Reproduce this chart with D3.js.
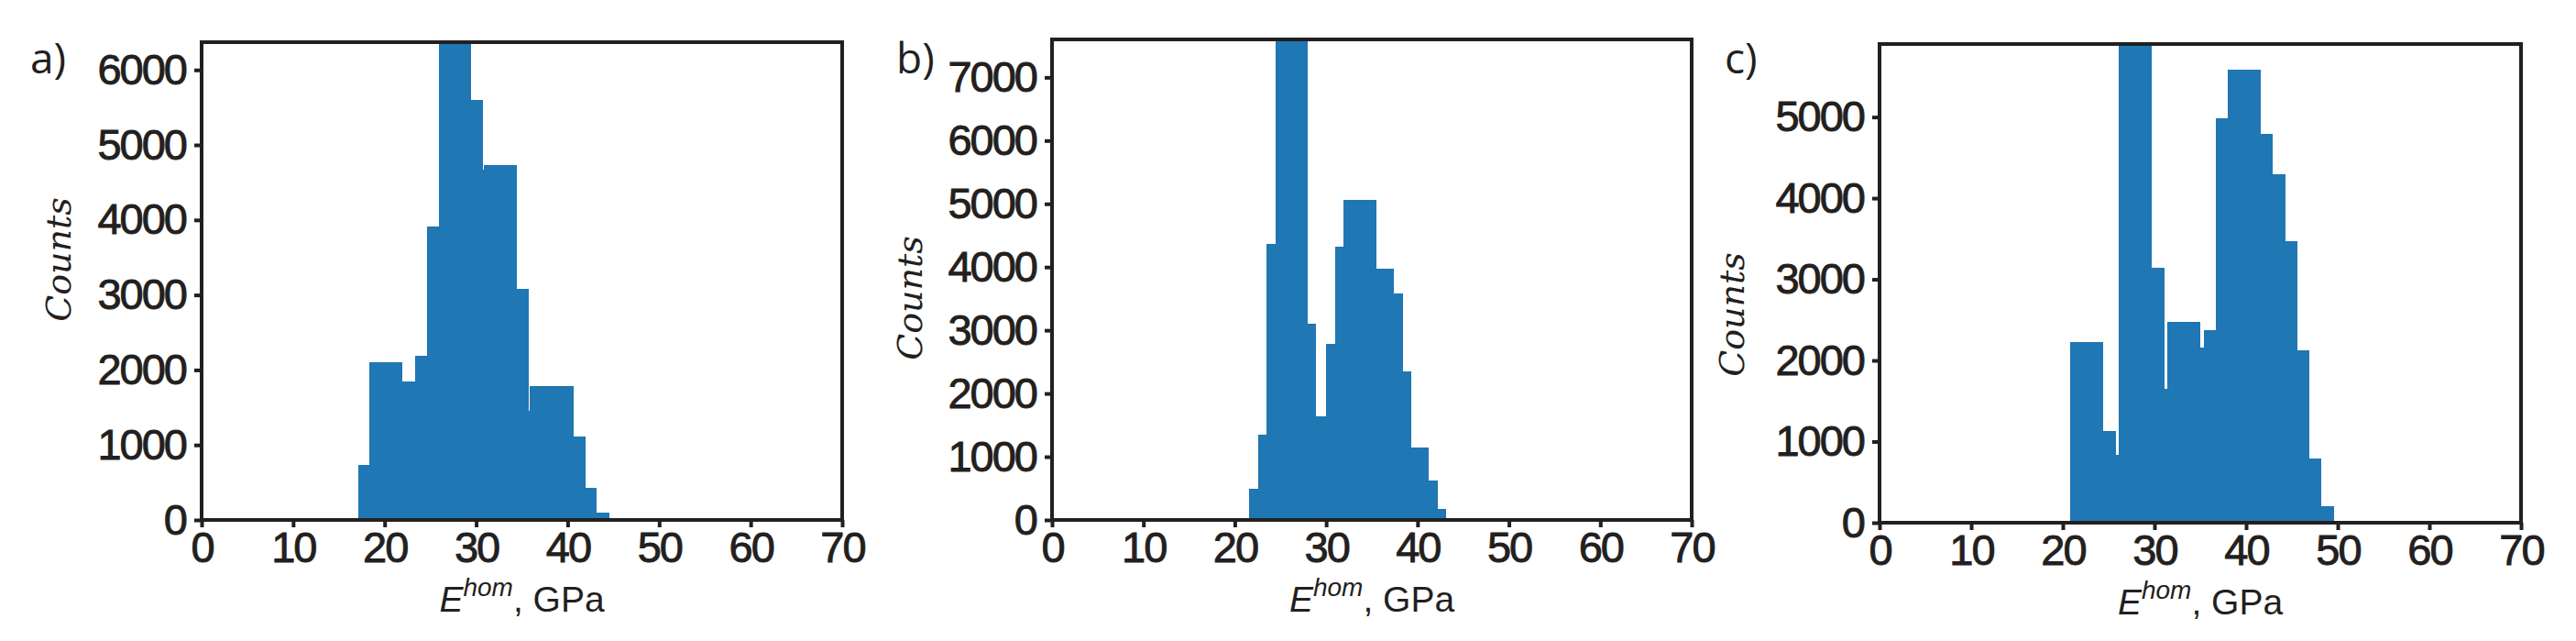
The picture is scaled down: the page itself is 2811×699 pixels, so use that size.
<!DOCTYPE html>
<html><head><meta charset="utf-8">
<script src="https://cdn.jsdelivr.net/npm/d3@7"></script>
<style>
html,body{margin:0;padding:0;background:#fff;}
svg{display:block;}
</style>
</head><body>
<svg id="chart" width="2811" height="699"></svg>
<script>
// ---------------- data ----------------
const panelLabels = ["a)", "b)", "c)"];
const xTicks = [0, 10, 20, 30, 40, 50, 60, 70];
const yTicksA = [0, 1000, 2000, 3000, 4000, 5000, 6000];
const yTicksB = [0, 1000, 2000, 3000, 4000, 5000, 6000, 7000];
const yTicksC = [0, 1000, 2000, 3000, 4000, 5000];
const yMaxA = 6370, yMaxB = 7600, yMaxC = 5900;

const edgesA  = [17.12, 18.33, 21.94, 23.34, 24.65, 25.89, 29.47, 30.77, 30.87, 34.48, 35.79, 35.89, 40.70, 42.01, 43.21, 44.52];
const countsA = [738, 2105, 1851, 2193, 3915, 6600, 5603, 4673, 4736, 3085, 1451, 1788, 1117, 434, 92];

const edgesB  = [21.53, 22.53, 23.43, 24.43, 28.03, 28.93, 30.03, 31.03, 31.93, 35.53, 37.43, 38.43, 39.33, 41.23, 42.23, 43.13];
const countsB = [487, 1345, 4362, 7900, 3097, 1636, 2791, 4322, 5065, 3971, 3589, 2354, 1145, 617, 181];

const edgesC  = [20.8, 24.4, 25.8, 26.1, 29.7, 31.1, 31.4, 35.0, 35.4, 36.7, 38.0, 41.6, 42.9, 44.3, 45.6, 46.9, 48.2, 49.6];
const countsC = [2232, 1135, 834, 6100, 3147, 1645, 2479, 2162, 2379, 4981, 5580, 4788, 4290, 3475, 2120, 795, 205];

const xLabelMain = "E", xLabelSup = "hom", xLabelRest = ", GPa";
const yLabel = "Counts";

// ---------------- layout ----------------
const INK = "#231f20", BAR = "#1f77b4";
const panels = [
  {edges: edgesA, counts: countsA, yMax: yMaxA, yTicks: yTicksA, label: panelLabels[0],
   l: 220, r: 919, t: 46, b: 567, labX: 33, ylx: 77, yly: 283},
  {edges: edgesB, counts: countsB, yMax: yMaxB, yTicks: yTicksB, label: panelLabels[1],
   l: 1148, r: 1846, t: 43, b: 567, labX: 978, ylx: 1006, yly: 325},
  {edges: edgesC, counts: countsC, yMax: yMaxC, yTicks: yTicksC, label: panelLabels[2],
   l: 2051, r: 2751, t: 48, b: 570, labX: 1882, ylx: 1903, yly: 343}
];

const svg = d3.select("#chart");
svg.append("rect").attr("width", 2811).attr("height", 699).attr("fill", "#fff");

panels.forEach((p, i) => {
  const x = d3.scaleLinear().domain([0, 70]).range([p.l, p.r]);
  const y = d3.scaleLinear().domain([0, p.yMax]).range([p.b, p.t]);

  const clipId = "clip" + i;
  svg.append("clipPath").attr("id", clipId)
    .append("rect").attr("x", p.l).attr("y", p.t).attr("width", p.r - p.l).attr("height", p.b - p.t);

  const bins = p.counts.map((c, k) => ({x0: p.edges[k], x1: p.edges[k + 1], c}));
  svg.append("g").attr("clip-path", `url(#${clipId})`)
    .selectAll("rect").data(bins).join("rect")
    .attr("x", d => x(d.x0))
    .attr("width", d => x(d.x1) - x(d.x0))
    .attr("y", d => y(d.c))
    .attr("height", d => y(0) - y(d.c))
    .attr("fill", BAR)
    .attr("shape-rendering", "crispEdges");

  // axes
  const xa = svg.append("g").attr("transform", `translate(0,${p.b})`)
    .call(d3.axisBottom(x).tickValues(xTicks).tickFormat(d3.format("d")).tickSize(8).tickPadding(5));
  const ya = svg.append("g").attr("transform", `translate(${p.l},0)`)
    .call(d3.axisLeft(y).tickValues(p.yTicks).tickFormat(d3.format("d")).tickSize(8).tickPadding(9));
  [xa, ya].forEach(g => {
    g.select(".domain").remove();
    g.selectAll(".tick line").attr("stroke", INK).attr("stroke-width", 4);
    g.selectAll(".tick text").attr("fill", INK)
      .attr("stroke", INK).attr("stroke-width", 0.9)
      .style("font-family", "'Liberation Sans', Arial, sans-serif")
      .style("font-size", "47px").style("letter-spacing", "-2px");
  });

  // frame
  svg.append("rect").attr("x", p.l).attr("y", p.t)
    .attr("width", p.r - p.l).attr("height", p.b - p.t)
    .attr("fill", "none").attr("stroke", INK).attr("stroke-width", 4);

  // panel letter
  svg.append("text").attr("x", p.labX).attr("y", 80)
    .attr("fill", INK)
    .style("font-family", "'Open Sans', 'Noto Sans', sans-serif")
    .style("font-size", "46px")
    .text(p.label);

  // y label
  svg.append("text")
    .attr("transform", `translate(${p.ylx},${p.yly}) rotate(-90)`)
    .attr("text-anchor", "middle").attr("fill", INK)
    .style("font-family", "'DejaVu Serif', serif").style("font-style", "italic")
    .style("font-size", "38px")
    .text(yLabel);

  // x label
  const xl = svg.append("text")
    .attr("x", (p.l + p.r) / 2).attr("y", p.b + 100)
    .attr("text-anchor", "middle").attr("fill", INK)
    .style("font-family", "'Liberation Sans', Arial, sans-serif")
    .style("font-size", "39px");
  xl.append("tspan").style("font-style", "italic").text(xLabelMain);
  xl.append("tspan").style("font-style", "italic").style("font-size", "28px").attr("dy", -17).text(xLabelSup);
  xl.append("tspan").attr("dy", 17).text(xLabelRest);
});
</script>
</body></html>
